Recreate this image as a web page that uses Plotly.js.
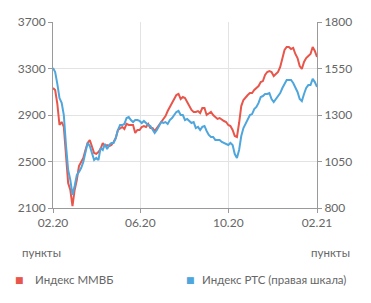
<!DOCTYPE html>
<html><head><meta charset="utf-8">
<script src="https://cdn.plot.ly/plotly-3.0.1.min.js"></script>
<style>html,body{margin:0;padding:0;background:#fff;}#chart{width:371px;height:303px;}</style>
</head><body><div id="chart"></div>
<script>
const dates = [
"2020-02-01","2020-02-04","2020-02-07","2020-02-10","2020-02-13","2020-02-16","2020-02-19","2020-02-22","2020-02-25","2020-02-28",
"2020-03-02","2020-03-05","2020-03-08","2020-03-11","2020-03-14","2020-03-17","2020-03-20","2020-03-23","2020-03-26","2020-03-29",
"2020-04-01","2020-04-04","2020-04-07","2020-04-10","2020-04-13","2020-04-16","2020-04-19","2020-04-22","2020-04-25","2020-04-28",
"2020-05-01","2020-05-04","2020-05-07","2020-05-10","2020-05-13","2020-05-16","2020-05-19","2020-05-22","2020-05-25","2020-05-28",
"2020-05-31","2020-06-03","2020-06-06","2020-06-09","2020-06-12","2020-06-15","2020-06-18","2020-06-21","2020-06-24","2020-06-27",
"2020-06-30","2020-07-03","2020-07-06","2020-07-09","2020-07-12","2020-07-15","2020-07-18","2020-07-21","2020-07-24","2020-07-27",
"2020-07-30","2020-08-02","2020-08-05","2020-08-08","2020-08-11","2020-08-14","2020-08-17","2020-08-20","2020-08-23","2020-08-26",
"2020-08-29","2020-09-01","2020-09-04","2020-09-07","2020-09-10","2020-09-13","2020-09-16","2020-09-19","2020-09-22","2020-09-25",
"2020-09-28","2020-10-01","2020-10-04","2020-10-07","2020-10-10","2020-10-13","2020-10-16","2020-10-19","2020-10-22","2020-10-25",
"2020-10-28","2020-10-31","2020-11-03","2020-11-06","2020-11-09","2020-11-12","2020-11-15","2020-11-18","2020-11-21","2020-11-24",
"2020-11-27","2020-11-30","2020-12-03","2020-12-06","2020-12-09","2020-12-12","2020-12-15","2020-12-18","2020-12-21","2020-12-24",
"2020-12-27","2020-12-30","2021-01-02","2021-01-05","2021-01-08","2021-01-11","2021-01-14","2021-01-17","2021-01-20","2021-01-23",
"2021-01-26","2021-01-29","2021-02-01"];

const moex = [
3132,3115,2995,2814,2840,2797,2556,2315,2255,2117,
2255,2341,2461,2496,2530,2599,2659,2685,2633,2573,
2565,2582,2608,2659,2633,2642,2633,2642,2668,2702,
2771,2788,2797,2780,2823,2814,2814,2814,2745,2771,
2771,2797,2805,2797,2823,2788,2788,2762,2788,2814,
2840,2857,2891,2934,2969,3003,3038,3072,3081,3038,
3055,3046,3012,2977,2943,2926,2926,2934,2917,2960,
2960,2900,2917,2926,2900,2883,2866,2874,2857,2848,
2840,2814,2805,2771,2719,2711,2831,2977,3029,3055,
3072,3089,3089,3115,3132,3149,3184,3192,3244,3270,
3278,3270,3235,3253,3270,3313,3399,3459,3485,3485,
3468,3477,3425,3390,3321,3296,3356,3390,3408,3425,
3485,3451,3399];

const rts = [
1553,1531,1467,1391,1365,1300,1139,1004,951,870,
918,977,994,1015,1047,1096,1150,1133,1090,1058,
1069,1058,1123,1112,1144,1117,1139,1150,1150,1176,
1219,1246,1246,1252,1284,1289,1273,1262,1273,1273,
1268,1257,1268,1257,1246,1241,1225,1203,1219,1241,
1262,1257,1262,1252,1273,1284,1300,1316,1322,1300,
1300,1273,1279,1268,1257,1262,1230,1236,1219,1236,
1241,1214,1193,1182,1182,1166,1166,1166,1155,1150,
1144,1139,1150,1139,1090,1069,1112,1187,1230,1252,
1273,1300,1305,1332,1343,1365,1397,1402,1413,1413,
1418,1386,1370,1386,1408,1418,1445,1467,1488,1488,
1488,1472,1451,1424,1386,1375,1413,1445,1461,1461,
1494,1477,1451];

const xTickVals = ["2020-02-01","2020-06-01","2020-10-01","2021-02-01"];
const xTickText = ["02.20","06.20","10.20","02.21"];
const yLeftTicks = [2100,2500,2900,3300,3700];
const yRightTicks = [800,1050,1300,1550,1800];
const seriesNames = ["Индекс ММВБ","Индекс РТС (правая шкала)"];
const unitLabel = "пункты";

const RED = "#e8564b", BLUE = "#4ea6dc", TXT = "#666666", GRID = "#e3e3e3", AX = "#9a9a9a";
const F = "Lato, 'Open Sans', sans-serif";

const traces = [
  {x: dates, y: moex, type: "scatter", mode: "lines", name: seriesNames[0], line: {color: RED, width: 2}, yaxis: "y"},
  {x: dates, y: rts, type: "scatter", mode: "lines", name: seriesNames[1], line: {color: BLUE, width: 2}, yaxis: "y2"}
];

const layout = {
  width: 371, height: 303,
  margin: {l: 53, r: 54, t: 22, b: 95},
  paper_bgcolor: "#fff", plot_bgcolor: "#fff",
  showlegend: false,
  font: {family: F, size: 12, color: TXT},
  xaxis: {
    type: "date", range: ["2020-02-01","2021-02-01"],
    tickvals: xTickVals, ticktext: xTickText,
    showgrid: true, gridcolor: GRID, gridwidth: 1,
    showline: true, linecolor: AX, linewidth: 1,
    ticks: "outside", ticklen: 4, tickcolor: AX,
    tickfont: {family: F, size: 12, color: TXT},
    zeroline: false, fixedrange: true
  },
  yaxis: {
    range: [2100, 3700], tickvals: yLeftTicks,
    showgrid: true, gridcolor: GRID, gridwidth: 1,
    showline: true, linecolor: AX, linewidth: 1,
    ticks: "outside", ticklen: 4, tickcolor: AX,
    tickfont: {family: F, size: 12, color: TXT},
    zeroline: false
  },
  yaxis2: {
    range: [800, 1800], tickvals: yRightTicks,
    overlaying: "y", side: "right",
    showgrid: false,
    showline: true, linecolor: AX, linewidth: 1,
    ticks: "outside", ticklen: 4, tickcolor: AX,
    tickfont: {family: F, size: 12, color: TXT},
    zeroline: false
  },
  annotations: [
    {xref: "paper", yref: "paper", x: -0.125, y: -0.237, xanchor: "left", yanchor: "middle", text: unitLabel, showarrow: false, font: {family: F, size: 11.5, color: TXT}},
    {xref: "paper", yref: "paper", x: 1.133, y: -0.237, xanchor: "right", yanchor: "middle", text: unitLabel, showarrow: false, font: {family: F, size: 11.5, color: TXT}},
    {xref: "paper", yref: "paper", x: -0.15, y: -0.387, xanchor: "left", yanchor: "middle", text: "■", showarrow: false, font: {family: "DejaVu Sans", size: 9, color: RED}},
    {xref: "paper", yref: "paper", x: -0.076, y: -0.387, xanchor: "left", yanchor: "middle", text: seriesNames[0], showarrow: false, font: {family: F, size: 11.5, color: TXT}},
    {xref: "paper", yref: "paper", x: 0.498, y: -0.387, xanchor: "left", yanchor: "middle", text: "■", showarrow: false, font: {family: "DejaVu Sans", size: 9, color: BLUE}},
    {xref: "paper", yref: "paper", x: 0.557, y: -0.387, xanchor: "left", yanchor: "middle", text: seriesNames[1], showarrow: false, font: {family: F, size: 11.5, color: TXT}}
  ]
};

Plotly.newPlot("chart", traces, layout, {staticPlot: true, displayModeBar: false});
</script>
</body></html>
